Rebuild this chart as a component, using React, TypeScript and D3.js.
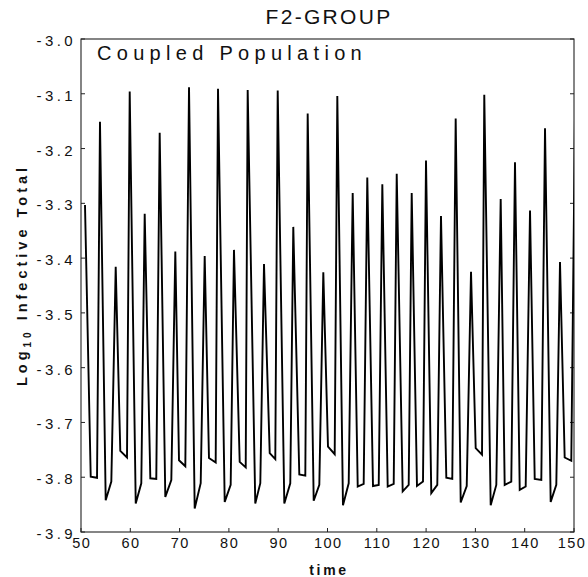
import React from "react";
import * as d3 from "d3";

const times = [
  50.81, 51.97, 53.25, 53.85, 55.01, 56.15, 57.04, 57.97, 59.33, 59.88,
  61.10, 62.23, 62.92, 64.06, 65.27, 65.96, 67.10, 68.32, 69.13, 69.88,
  71.16, 71.91, 73.06, 74.28, 75.09, 75.96, 77.32, 77.79, 79.15, 80.36,
  81.03, 82.19, 83.41, 83.81, 85.35, 86.37, 87.12, 88.28, 89.41, 89.90,
  91.24, 92.45, 93.06, 94.28, 95.50, 95.98, 97.20, 98.34, 99.15, 100.10,
  101.46, 101.99, 103.14, 104.30, 105.11, 106.13, 107.34, 108.07, 109.23, 110.39,
  111.12, 112.21, 113.43, 114.04, 115.25, 116.47, 117.08, 118.15, 119.37, 119.98,
  121.05, 122.27, 123.02, 124.10, 125.31, 126.00, 127.02, 128.24, 129.11, 130.06,
  131.34, 131.80, 133.10, 134.24, 135.13, 135.94, 137.28, 138.03, 138.99, 140.20,
  141.08, 142.03, 143.37, 144.12, 145.27, 146.41, 147.16, 148.11, 149.45, 150.25,
];

const logInfective = [
  -3.303, -3.799, -3.801, -3.151, -3.842, -3.808, -3.416, -3.752, -3.764, -3.096,
  -3.848, -3.811, -3.319, -3.802, -3.803, -3.171, -3.836, -3.805, -3.388, -3.769,
  -3.780, -3.088, -3.857, -3.811, -3.396, -3.765, -3.773, -3.091, -3.845, -3.814,
  -3.385, -3.772, -3.782, -3.093, -3.848, -3.811, -3.411, -3.756, -3.767, -3.094,
  -3.848, -3.811, -3.343, -3.795, -3.797, -3.136, -3.843, -3.814, -3.426, -3.744,
  -3.758, -3.104, -3.851, -3.811, -3.281, -3.817, -3.812, -3.253, -3.816, -3.814,
  -3.265, -3.817, -3.812, -3.246, -3.826, -3.814, -3.281, -3.816, -3.808, -3.222,
  -3.829, -3.814, -3.323, -3.801, -3.803, -3.145, -3.846, -3.816, -3.425, -3.747,
  -3.759, -3.102, -3.851, -3.814, -3.292, -3.814, -3.808, -3.225, -3.823, -3.817,
  -3.313, -3.803, -3.805, -3.163, -3.845, -3.814, -3.407, -3.764, -3.770, -3.100,
];

const xTicks = [50, 60, 70, 80, 90, 100, 110, 120, 130, 140, 150];
const yTicks = [-3.9, -3.8, -3.7, -3.6, -3.5, -3.4, -3.3, -3.2, -3.1, -3.0];
const yTickLabels = ["-3.9", "-3.8", "-3.7", "-3.6", "-3.5", "-3.4", "-3.3", "-3.2", "-3.1", "-3.0"];

const title = "F2-GROUP";
const subtitle = "Coupled Population";
const xLabel = "time";

export default function App() {
  const W = 588;
  const H = 577;
  const left = 81;
  const right = 574;
  const top = 39;
  const bottom = 532;

  const x = d3.scaleLinear().domain([50, 150]).range([left, right]);
  const y = d3.scaleLinear().domain([-3.9, -3.0]).range([bottom, top]);

  const pts: [number, number][] = times.map((t, i) => [t, logInfective[i]]);
  const line = d3
    .line<[number, number]>()
    .x((d) => x(d[0]))
    .y((d) => y(d[1]));

  const font = "'Liberation Sans', Arial, sans-serif";
  const tickLen = 4;

  return (
    <svg
      width={W}
      height={H}
      style={{ position: "absolute", left: 0, top: 0, background: "#fff" }}
      fontFamily={font}
    >
      <rect x={0} y={0} width={W} height={H} fill="#fff" />
      <defs>
        <clipPath id="plotClip">
          <rect x={left} y={top} width={right - left} height={bottom - top} />
        </clipPath>
      </defs>

      {/* title */}
      <text x={329} y={24} textAnchor="middle" fontSize={21} letterSpacing={2.3} fill="#111">
        {title}
      </text>

      {/* frame */}
      <rect
        x={left}
        y={top}
        width={right - left}
        height={bottom - top}
        fill="none"
        stroke="#222"
        strokeWidth={1.1}
      />

      {/* x ticks */}
      {xTicks.map((t, i) => (
        <g key={"xt" + t}>
          <line x1={x(t)} x2={x(t)} y1={bottom} y2={bottom - tickLen} stroke="#222" strokeWidth={1} />
          <text
            x={x(t) + (i === xTicks.length - 1 ? -2 : 0.75)}
            y={548}
            textAnchor="middle"
            fontSize={14.5}
            letterSpacing={1.5}
            fill="#111"
          >
            {String(t)}
          </text>
        </g>
      ))}

      {/* y ticks */}
      {yTicks.map((v, i) => (
        <g key={"yt" + i}>
          <line x1={left} x2={left + tickLen} y1={y(v)} y2={y(v)} stroke="#222" strokeWidth={1} />
          <line x1={right} x2={right - tickLen} y1={y(v)} y2={y(v)} stroke="#222" strokeWidth={1} />
          <text
            x={76}
            y={y(v) + 7}
            textAnchor="end"
            fontSize={15}
            letterSpacing={3.4}
            fill="#111"
          >
            {yTickLabels[i]}
          </text>
        </g>
      ))}

      {/* subtitle inside plot */}
      <text x={97} y={60} fontSize={20} letterSpacing={5.3} fill="#111">
        {subtitle}
      </text>

      {/* data */}
      <path
        d={line(pts) || ""}
        fill="none"
        stroke="#000"
        strokeWidth={1.9}
        strokeLinejoin="miter"
        clipPath="url(#plotClip)"
      />

      {/* x label */}
      <text x={329} y={575} textAnchor="middle" fontSize={14} fontWeight="bold" letterSpacing={2.7} fill="#111">
        {xLabel}
      </text>

      {/* y label */}
      <text
        transform="translate(27,275) rotate(-90)"
        textAnchor="middle"
        fontSize={14.5}
        fontWeight="bold"
        letterSpacing={4}
        fill="#111"
      >
        <tspan>Log</tspan>
        <tspan fontSize={10} dy={4}>10</tspan>
        <tspan dy={-4}> Infective Total</tspan>
      </text>
    </svg>
  );
}
